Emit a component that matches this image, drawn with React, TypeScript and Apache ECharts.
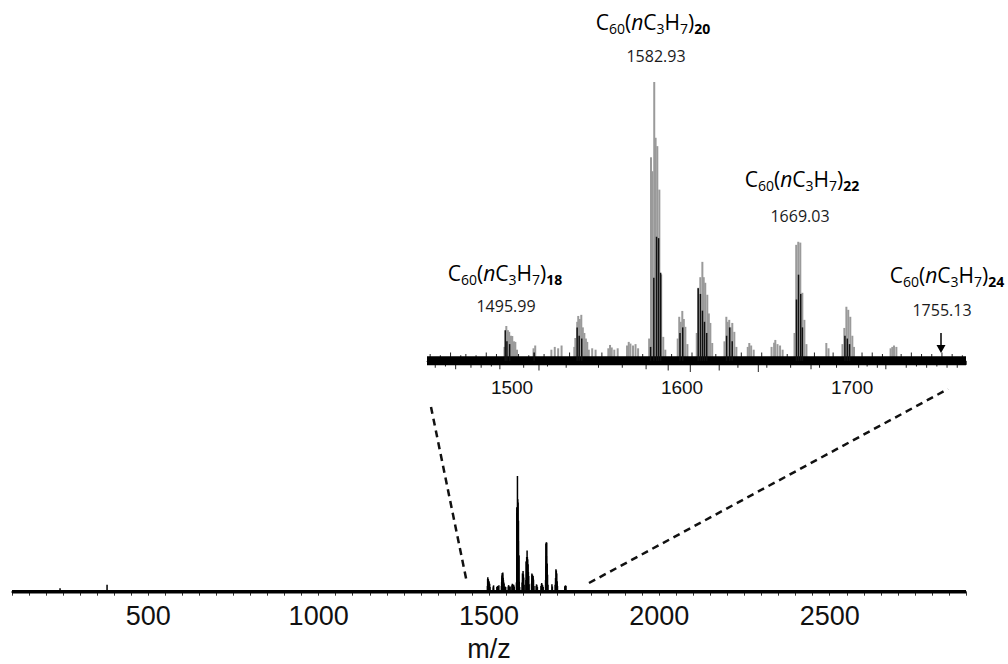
import React, { useEffect, useRef } from "react";
import * as echarts from "echarts";

// ---- Data (m/z, relative intensity) ----
// light grey isotope sticks
const greyPeaks: [number, number][] = [
  [1495.4, 5], [1496.5, 12.5], [1497.4, 11], [1498.2, 10.4], [1499.2, 9], [1500.0, 8.9], [1501.0, 7], [1501.8, 6.8], [1502.8, 4],
  [1512.5, 4.5], [1513.5, 5.5],
  [1523, 4], [1525, 5], [1527, 4.5], [1529, 5.5],
  [1536.5, 5], [1537.1, 8.2], [1538.2, 14], [1538.8, 16.1], [1539.7, 15], [1540.6, 16.5], [1541.5, 12], [1542.4, 10], [1543.3, 8], [1544.1, 6.8], [1545, 4],
  [1547, 4.5], [1549, 4],
  [1556.5, 4.5], [1557.5, 5.7], [1558.5, 4.8], [1560, 4], [1562, 4.5],
  [1567.5, 5.5], [1568.5, 6.8], [1569.5, 6.2], [1571, 5.5], [1572.5, 6], [1574, 4.5],
  [1580.5, 8], [1581.6, 73], [1582.4, 68], [1583.5, 100], [1584.3, 80], [1585.3, 77], [1586.5, 61.4], [1587.6, 31], [1588.8, 8.6], [1590, 4],
  [1597.3, 8], [1598.2, 15.8], [1599.1, 14], [1600.0, 17.9], [1600.9, 15], [1601.8, 12.2], [1603, 6],
  [1608.5, 10], [1609.4, 26.2], [1610.6, 30], [1611.8, 35.5], [1612.6, 30], [1613.5, 28], [1614.7, 23.7], [1615.6, 17], [1616.5, 13.6], [1617.6, 6.4],
  [1624.8, 7], [1625.9, 15.8], [1626.7, 14], [1627.6, 14.7], [1628.5, 12], [1629.4, 13.6], [1630.6, 10.4], [1631.8, 5],
  [1638.5, 5], [1639.4, 6.4], [1640.5, 5.5], [1642, 4],
  [1652.5, 5], [1654, 6.5], [1654.7, 7.5], [1656, 6], [1657.5, 5.5], [1659, 4],
  [1666, 10], [1667, 41.6], [1668.2, 42.7], [1669.4, 42.4], [1670.6, 24.4], [1671.8, 14.7], [1673, 6],
  [1684.7, 6.4], [1686, 4.5],
  [1694.2, 6], [1695.3, 11.8], [1696.5, 19.4], [1697.6, 18.3], [1698.8, 15.8], [1700, 9], [1701, 5],
  [1722.5, 4.5], [1723.5, 5], [1724.5, 5.5], [1725.9, 5],
];
// dark sticks overlaid on the grey ones
const blackPeaks: [number, number][] = [
  [1496.0, 11], [1497.0, 7], [1498.6, 6], [1513, 3],
  [1538.3, 12], [1539.5, 9], [1541, 8],
  [1581.5, 5], [1583.4, 29.8], [1585.0, 44.5], [1586.2, 44], [1587.4, 31.6],
  [1598.8, 10], [1600.4, 12],
  [1609.5, 26], [1610.8, 24], [1612.0, 18], [1613.2, 14], [1614.5, 10],
  [1626.2, 9], [1628.0, 12], [1629.5, 7],
  [1667.3, 22], [1668.5, 30.9], [1669.8, 24], [1670.8, 12],
  [1695.8, 9], [1697.2, 8], [1698.5, 6],
];
// baseline noise excursions in the zoomed window (read approximately)
const noiseSpikes: [number, number][] = [
  [1452, 2.5], [1455, -2.5], [1458, 2], [1461, -2], [1464, 3], [1467, -3], [1470, 2], [1473, 2.5], [1476, -2.5],
  [1479, 2], [1482, -2.5], [1485, 3], [1488, -2], [1491, 2.5], [1493, -3], [1504, 2.5], [1507, -2.5], [1510, 2],
  [1516, -3.5], [1519, 2.5], [1521, -2], [1532, -2.5], [1534, 3], [1551, -2.5], [1553, 3], [1565, -2.5],
  [1577, 2.5], [1579, -3], [1592, -3.5], [1594, 2.5], [1605, -4.5], [1606, 3], [1620, 2.5], [1622, -3.5],
  [1633, -2.5], [1635, 3], [1645, -4.5], [1647, 3], [1650, -2.5], [1662, 2.5], [1664, -2.5], [1676, -3],
  [1678, 3], [1681, -2.5], [1689, 3], [1691, -2.5], [1704, -2.5], [1706, 3], [1709, -2], [1712, 3],
  [1715, -2.5], [1718, 2.5], [1720, -3], [1729, 2.5], [1732, -2.5], [1735, 3], [1738, -2], [1741, 2.5],
  [1744, -2.5], [1747, 2.5], [1750, -2], [1753, 3], [1756, -2.5], [1759, 2.5], [1762, -2.5], [1765, 2],
];
// isolated peaks outside the zoomed window
const farPeaks: [number, number][] = [[241, 3], [379, 6]];

const mainRange = [100, 2900];
const insetRange = [1450, 1767];
const mainTickLabels = [500, 1000, 1500, 2000, 2500];
const insetTickLabels = [1500, 1600, 1700];

const annotations = [
  { n: "18", mass: "1495.99", x: 505, y: 274, mx: 506, my: 306 },
  { n: "20", mass: "1582.93", x: 653, y: 23, mx: 656, my: 56 },
  { n: "22", mass: "1669.03", x: 802, y: 180, mx: 800, my: 216 },
  { n: "24", mass: "1755.13", x: 947, y: 276, mx: 942, my: 310 },
];

const textColor = "#1a1a1a";
const labelFont = "'Open Sans', 'Noto Sans', sans-serif";
const axisFont = "'Liberation Sans', Arial, sans-serif";

export default function App() {
  const ref = useRef<HTMLDivElement>(null);
  useEffect(() => {
    if (!ref.current) return;
    const chart = echarts.init(ref.current, undefined, { renderer: "svg" });

    const allPeaks = [...farPeaks, ...greyPeaks, ...blackPeaks];

    const rich = {
      b: { fontSize: 21, fontFamily: labelFont, color: textColor, lineHeight: 24, verticalAlign: "top" },
      i: { fontSize: 21, fontFamily: labelFont, color: textColor, lineHeight: 24, verticalAlign: "top", fontStyle: "italic" },
      s: { fontSize: 14, fontFamily: labelFont, color: textColor, lineHeight: 13, verticalAlign: "bottom" },
      sb: { fontSize: 14, fontFamily: labelFont, color: textColor, lineHeight: 13, verticalAlign: "bottom", fontWeight: "bold" },
    };

    const graphics: any[] = [];
    annotations.forEach((a) => {
      graphics.push({
        type: "text",
        x: a.x,
        y: a.y,
        style: {
          text: `{b|C}{s|60}{b|(}{i|n}{b|C}{s|3}{b|H}{s|7}{b|)}{sb|${a.n}}`,
          rich,
          align: "center",
          verticalAlign: "middle",
        },
      });
      graphics.push({
        type: "text",
        x: a.mx,
        y: a.my,
        style: {
          text: a.mass,
          fontSize: 16,
          fontFamily: labelFont,
          fill: textColor,
          align: "center",
          verticalAlign: "middle",
        },
      });
    });
    // zoom connector lines
    graphics.push({
      type: "line",
      shape: { x1: 431, y1: 407, x2: 467, y2: 583 },
      style: { stroke: "#111", lineWidth: 2.5, lineDash: [7, 5] },
    });
    graphics.push({
      type: "line",
      shape: { x1: 589, y1: 583, x2: 948, y2: 389 },
      style: { stroke: "#111", lineWidth: 2.5, lineDash: [7, 5] },
    });
    // arrow marking 1755.13
    graphics.push({
      type: "line",
      shape: { x1: 941, y1: 333, x2: 941, y2: 347 },
      style: { stroke: "#000", lineWidth: 1.5 },
    });
    graphics.push({
      type: "polygon",
      shape: { points: [[936.5, 345], [945.5, 345], [941, 353]] },
      style: { fill: "#000" },
    });

    const option: any = {
      animation: false,
      backgroundColor: "#fff",
      grid: [
        { left: 12, right: 42, top: 476, bottom: 70 },
        { left: 427, right: 42, top: 82, bottom: 292 },
      ],
      xAxis: [
        {
          type: "value",
          gridIndex: 0,
          min: mainRange[0],
          max: mainRange[1],
          interval: 50,
          splitLine: { show: false },
          axisLine: { lineStyle: { color: "#000", width: 1.5 } },
          axisTick: { length: 4, lineStyle: { color: "#333", width: 1 } },
          axisLabel: {
            formatter: (v: number) => (mainTickLabels.includes(v) ? String(v) : ""),
            fontSize: 27,
            fontFamily: axisFont,
            color: "#111",
            margin: 8,
          },
          name: "m/z",
          nameLocation: "middle",
          nameGap: 41,
          nameTextStyle: {
            fontSize: 27,
            fontFamily: axisFont,
            color: "#111",
          },
        },
        {
          type: "value",
          gridIndex: 1,
          min: insetRange[0],
          max: insetRange[1],
          interval: 10,
          splitLine: { show: false },
          axisLine: { lineStyle: { color: "#444", width: 1 } },
          axisTick: { length: 4, lineStyle: { color: "#555", width: 1 } },
          axisLabel: {
            formatter: (v: number) => (insetTickLabels.includes(v) ? String(v) : ""),
            fontSize: 19,
            fontFamily: axisFont,
            color: "#111",
            margin: 6,
          },
        },
      ],
      yAxis: [
        { type: "value", gridIndex: 0, min: -2, max: 100, show: false },
        { type: "value", gridIndex: 1, min: -4, max: 100, show: false },
      ],
      graphic: graphics,
      series: [
        // main spectrum
        {
          type: "line",
          xAxisIndex: 0,
          yAxisIndex: 0,
          data: [[mainRange[0], 0], [mainRange[1], 0]],
          symbol: "none",
          lineStyle: { color: "#000", width: 3.5 },
          z: 2,
        },
        {
          type: "bar",
          xAxisIndex: 0,
          yAxisIndex: 0,
          data: allPeaks,
          barWidth: 1.5,
          barGap: "-100%",
          itemStyle: { color: "#000" },
          z: 3,
        },
        // inset
        {
          type: "bar",
          xAxisIndex: 1,
          yAxisIndex: 1,
          data: greyPeaks,
          barWidth: 2,
          barGap: "-100%",
          itemStyle: { color: "#9a9a9a" },
          z: 2,
        },
        {
          type: "line",
          xAxisIndex: 1,
          yAxisIndex: 1,
          data: [[insetRange[0], 0], [insetRange[1], 0]],
          symbol: "none",
          lineStyle: { color: "#000", width: 9 },
          z: 3,
        },
        {
          type: "bar",
          xAxisIndex: 1,
          yAxisIndex: 1,
          data: noiseSpikes,
          barWidth: 1,
          barGap: "-100%",
          itemStyle: { color: "#222" },
          z: 3,
        },
        {
          type: "bar",
          xAxisIndex: 1,
          yAxisIndex: 1,
          data: blackPeaks,
          barWidth: 1.5,
          barGap: "-100%",
          itemStyle: { color: "#111" },
          z: 4,
        },
      ],
    };
    chart.setOption(option);
    return () => chart.dispose();
  }, []);
  return (
    <div
      ref={ref}
      style={{ position: "fixed", left: 0, top: 0, width: 1008, height: 664, background: "#fff" }}
    />
  );
}
